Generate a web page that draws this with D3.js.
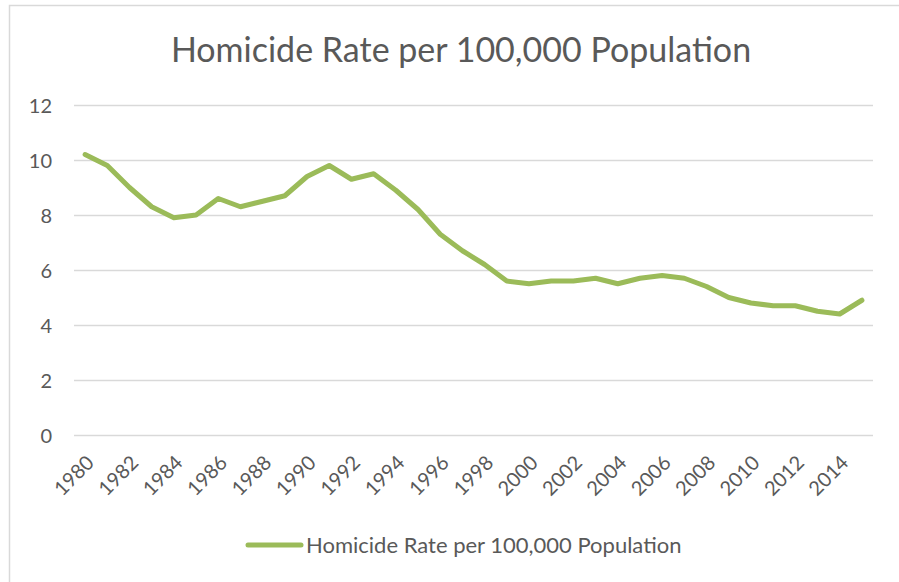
<!DOCTYPE html>
<html>
<head>
<meta charset="utf-8">
<script src="https://cdn.jsdelivr.net/npm/d3@7"></script>
<style>
  body { margin: 0; background: #fff; }
  svg { display: block; font-family: Lato, "Open Sans", sans-serif; }
</style>
</head>
<body>
<div class="chart"></div>
<script>
// data
const years = d3.range(1980, 2016);
const rates = [10.2, 9.8, 9.0, 8.3, 7.9, 8.0, 8.6, 8.3, 8.5, 8.7,
               9.4, 9.8, 9.3, 9.5, 8.9, 8.2, 7.3, 6.7, 6.2, 5.6,
               5.5, 5.6, 5.6, 5.7, 5.5, 5.7, 5.8, 5.7, 5.4, 5.0,
               4.8, 4.7, 4.7, 4.5, 4.4, 4.9];
const yTicks = [0, 2, 4, 6, 8, 10, 12];
const seriesName = 'Homicide Rate per 100,000 Population';
const chartTitle = 'Homicide Rate per 100,000 Population';

const W = 899, H = 582;
const plot = {left: 74, right: 873, top: 105, bottom: 435};
const green = '#9bbb59';
const textGrey = '#595959';
const font = 'Lato, "Open Sans", sans-serif';

const svg = d3.select('.chart').append('svg')
    .attr('width', W)
    .attr('height', H);

// chart frame (right/bottom edges fall outside the crop)
svg.append('rect')
    .attr('x', 9.5).attr('y', 5.5)
    .attr('width', W + 10).attr('height', H + 10)
    .attr('fill', '#fff')
    .attr('stroke', '#d9d9d9')
    .attr('stroke-width', 1.5);

const x = d3.scaleBand()
    .domain(years)
    .range([plot.left, plot.right])
    .padding(0);

const y = d3.scaleLinear()
    .domain([0, 12])
    .range([plot.bottom, plot.top]);

// gridlines + y labels
const yAxis = svg.append('g')
    .attr('transform', `translate(${plot.left},0)`)
    .call(d3.axisLeft(y).tickValues(yTicks).tickSize(-(plot.right - plot.left)).tickPadding(22))
    .attr('font-family', font)
    .attr('font-size', 20);
yAxis.select('.domain').remove();
yAxis.selectAll('.tick line')
    .attr('stroke', '#d9d9d9')
    .attr('stroke-width', 1.5);
yAxis.selectAll('.tick text')
    .attr('fill', textGrey)
    .attr('dy', '0.35em');

// x labels, every other year, rotated
const xAxis = svg.append('g')
    .attr('transform', `translate(0,${plot.bottom})`)
    .call(d3.axisBottom(x).tickValues(years.filter((d, i) => i % 2 === 0)).tickSize(0))
    .attr('font-family', font)
    .attr('font-size', 20);
xAxis.select('.domain').remove();
xAxis.selectAll('.tick text')
    .attr('fill', textGrey)
    .attr('text-anchor', 'end')
    .attr('dy', 0)
    .attr('transform', 'translate(8,27) rotate(-45)');

// the line
const line = d3.line()
    .x((d, i) => x(years[i]) + x.bandwidth() / 2)
    .y(d => y(d));

svg.append('path')
    .datum(rates)
    .attr('fill', 'none')
    .attr('stroke', green)
    .attr('stroke-width', 5)
    .attr('stroke-linejoin', 'round')
    .attr('stroke-linecap', 'round')
    .attr('d', line);

// title
svg.append('text')
    .attr('x', 461)
    .attr('y', 62)
    .attr('text-anchor', 'middle')
    .attr('fill', textGrey)
    .style('font-size', '34px')
    .text(chartTitle);

// legend
const legend = svg.append('g').attr('transform', 'translate(248,545)');
legend.append('line')
    .attr('x1', 0).attr('x2', 53)
    .attr('stroke', green)
    .attr('stroke-width', 5)
    .attr('stroke-linecap', 'round');
legend.append('text')
    .attr('x', 58)
    .attr('y', 7.5)
    .attr('fill', textGrey)
    .style('font-size', '22px')
    .text(seriesName);
</script>
</body>
</html>
